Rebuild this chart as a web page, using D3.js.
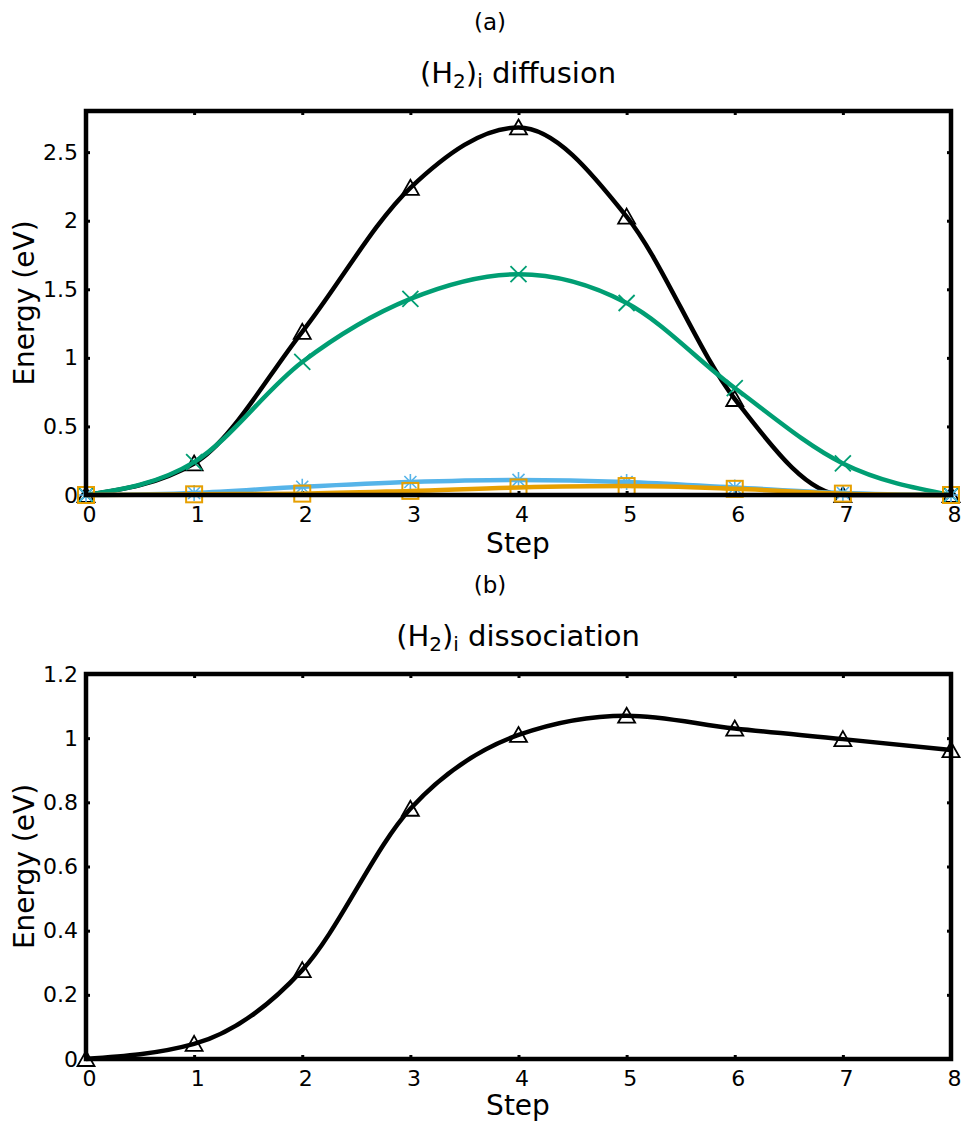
<!DOCTYPE html>
<html><head><meta charset="utf-8">
<script src="https://cdn.jsdelivr.net/npm/d3@7"></script>
<style>body{margin:0;background:#fff}svg{display:block}text{font-family:"DejaVu Sans",sans-serif;fill:#000}</style>
</head><body>
<svg id="c" width="965" height="1122"></svg>
<script>
const steps = [0,1,2,3,4,5,6,7,8];
// Panel (a): (H2)i diffusion
const diffBlack  = [0, 0.23, 1.19, 2.24, 2.68, 2.03, 0.70, 0.0, 0.0];
const diffGreen  = [0, 0.24, 0.97, 1.43, 1.61, 1.40, 0.78, 0.23, 0.0];
const diffBlue   = [0, 0.015, 0.06, 0.095, 0.11, 0.095, 0.055, 0.015, 0.0];
const diffOrange = [0, 0.005, 0.01, 0.03, 0.055, 0.065, 0.045, 0.01, 0.0];
const yTicksA = [0, 0.5, 1, 1.5, 2, 2.5];
// Panel (b): (H2)i dissociation
const dissBlack = [0, 0.047, 0.277, 0.78, 1.01, 1.07, 1.03, 0.997, 0.963];
const yTicksB = [0, 0.2, 0.4, 0.6, 0.8, 1, 1.2];
const xTicks = [0,1,2,3,4,5,6,7,8];

const svg = d3.select("#c");

function marker(g, type, color, x, y){
  const s = 8;
  if(type==="tri"){
    g.append("path").attr("d",`M${x},${y-8}L${x+8.5},${y+7}L${x-8.5},${y+7}Z`)
      .attr("fill","none").attr("stroke",color).attr("stroke-width",1.8);
  } else if(type==="x"){
    g.append("path").attr("d",`M${x-s},${y-s}L${x+s},${y+s}M${x-s},${y+s}L${x+s},${y-s}`)
      .attr("stroke",color).attr("stroke-width",1.8);
  } else if(type==="star"){
    const d=6;
    g.append("path").attr("d",`M${x},${y-s}L${x},${y+s}M${x-s},${y}L${x+s},${y}M${x-d},${y-d}L${x+d},${y+d}M${x-d},${y+d}L${x+d},${y-d}`)
      .attr("stroke",color).attr("stroke-width",1.6);
  } else if(type==="sq"){
    g.append("rect").attr("x",x-8).attr("y",y-8).attr("width",16).attr("height",16)
      .attr("fill","none").attr("stroke",color).attr("stroke-width",2);
  }
}

function panel(cfg){
  const {top,bottom,ymax,yTicks,series,label,title,labelY,titleY,stepDy} = cfg;
  const left=86,right=951;
  const x = d3.scaleLinear().domain([0,8]).range([left,right]);
  const y = d3.scaleLinear().domain([0,ymax]).range([bottom,top]);
  const g = svg.append("g");
  // panel label & title
  g.append("text").attr("x",490).attr("y",labelY).attr("text-anchor","middle").style("font-size","23px").text(label);
  const t = g.append("text").attr("x",518).attr("y",titleY).attr("text-anchor","middle").style("font-size","29px");
  t.append("tspan").text("(H");
  t.append("tspan").attr("baseline-shift","-25%").style("font-size","20px").text("2");
  t.append("tspan").text(")");
  t.append("tspan").attr("baseline-shift","-25%").style("font-size","20px").text("i");
  t.append("tspan").text(" " + title);
  // axes (tick labels)
  const ax = g.append("g").attr("transform",`translate(0,${bottom})`)
    .call(d3.axisBottom(x).tickValues(xTicks).tickFormat(d3.format("d")).tickSize(-4).tickPadding(11));
  ax.select(".domain").remove();
  ax.selectAll("text").style("font-size","22px").attr("dx","3");
  const ay = g.append("g").attr("transform",`translate(${left},0)`)
    .call(d3.axisLeft(y).tickValues(yTicks).tickFormat(d=>String(+d.toFixed(2))).tickSize(-4).tickPadding(8));
  ay.select(".domain").remove();
  ay.selectAll("text").style("font-size","22px");
  ay.selectAll(".tick line").attr("stroke-width",3);
  ax.selectAll(".tick line").attr("stroke-width",3);
  // top & right ticks
  const at = g.append("g").attr("transform",`translate(0,${top})`)
    .call(d3.axisTop(x).tickValues(xTicks).tickFormat("").tickSize(-4));
  at.select(".domain").remove(); at.selectAll(".tick line").attr("stroke-width",3);
  const ar = g.append("g").attr("transform",`translate(${right},0)`)
    .call(d3.axisRight(y).tickValues(yTicks).tickFormat("").tickSize(-4));
  ar.select(".domain").remove(); ar.selectAll(".tick line").attr("stroke-width",3);
  // axis titles
  g.append("text").attr("x",518).attr("y",bottom+stepDy).attr("text-anchor","middle").style("font-size","28px").text("Step");
  g.append("text").attr("transform",`translate(34,${(top+bottom)/2}) rotate(-90)`).attr("text-anchor","middle").style("font-size","28px").text("Energy (eV)");
  // lines
  const line = d3.line().x((d,i)=>x(steps[i])).y(d=>y(d)).curve(d3.curveMonotoneX);
  series.forEach(s=>{
    g.append("path").datum(s.values).attr("d",line).attr("fill","none")
      .attr("stroke",s.color).attr("stroke-width",4.5);
    s.values.forEach((v,i)=>marker(g,s.marker,s.mcolor||s.color,x(steps[i]),y(v)));
  });
  // box
  g.append("rect").attr("x",left).attr("y",top).attr("width",right-left).attr("height",bottom-top)
    .attr("fill","none").attr("stroke","#000").attr("stroke-width",4.5);
}

panel({top:111,bottom:495,ymax:2.8,yTicks:yTicksA,label:"(a)",labelY:30,title:"diffusion",titleY:83,stepDy:58,
  series:[
    {values:diffBlack,color:"#000",marker:"tri"},
    {values:diffGreen,color:"#009E73",marker:"x"},
    {values:diffBlue,color:"#56B4E9",marker:"star"},
    {values:diffOrange,color:"#E69F00",marker:"sq"}
  ]});
panel({top:674,bottom:1059,ymax:1.2,yTicks:yTicksB,label:"(b)",labelY:593,title:"dissociation",titleY:646,stepDy:56,
  series:[{values:dissBlack,color:"#000",marker:"tri"}]});
</script>
</body></html>
